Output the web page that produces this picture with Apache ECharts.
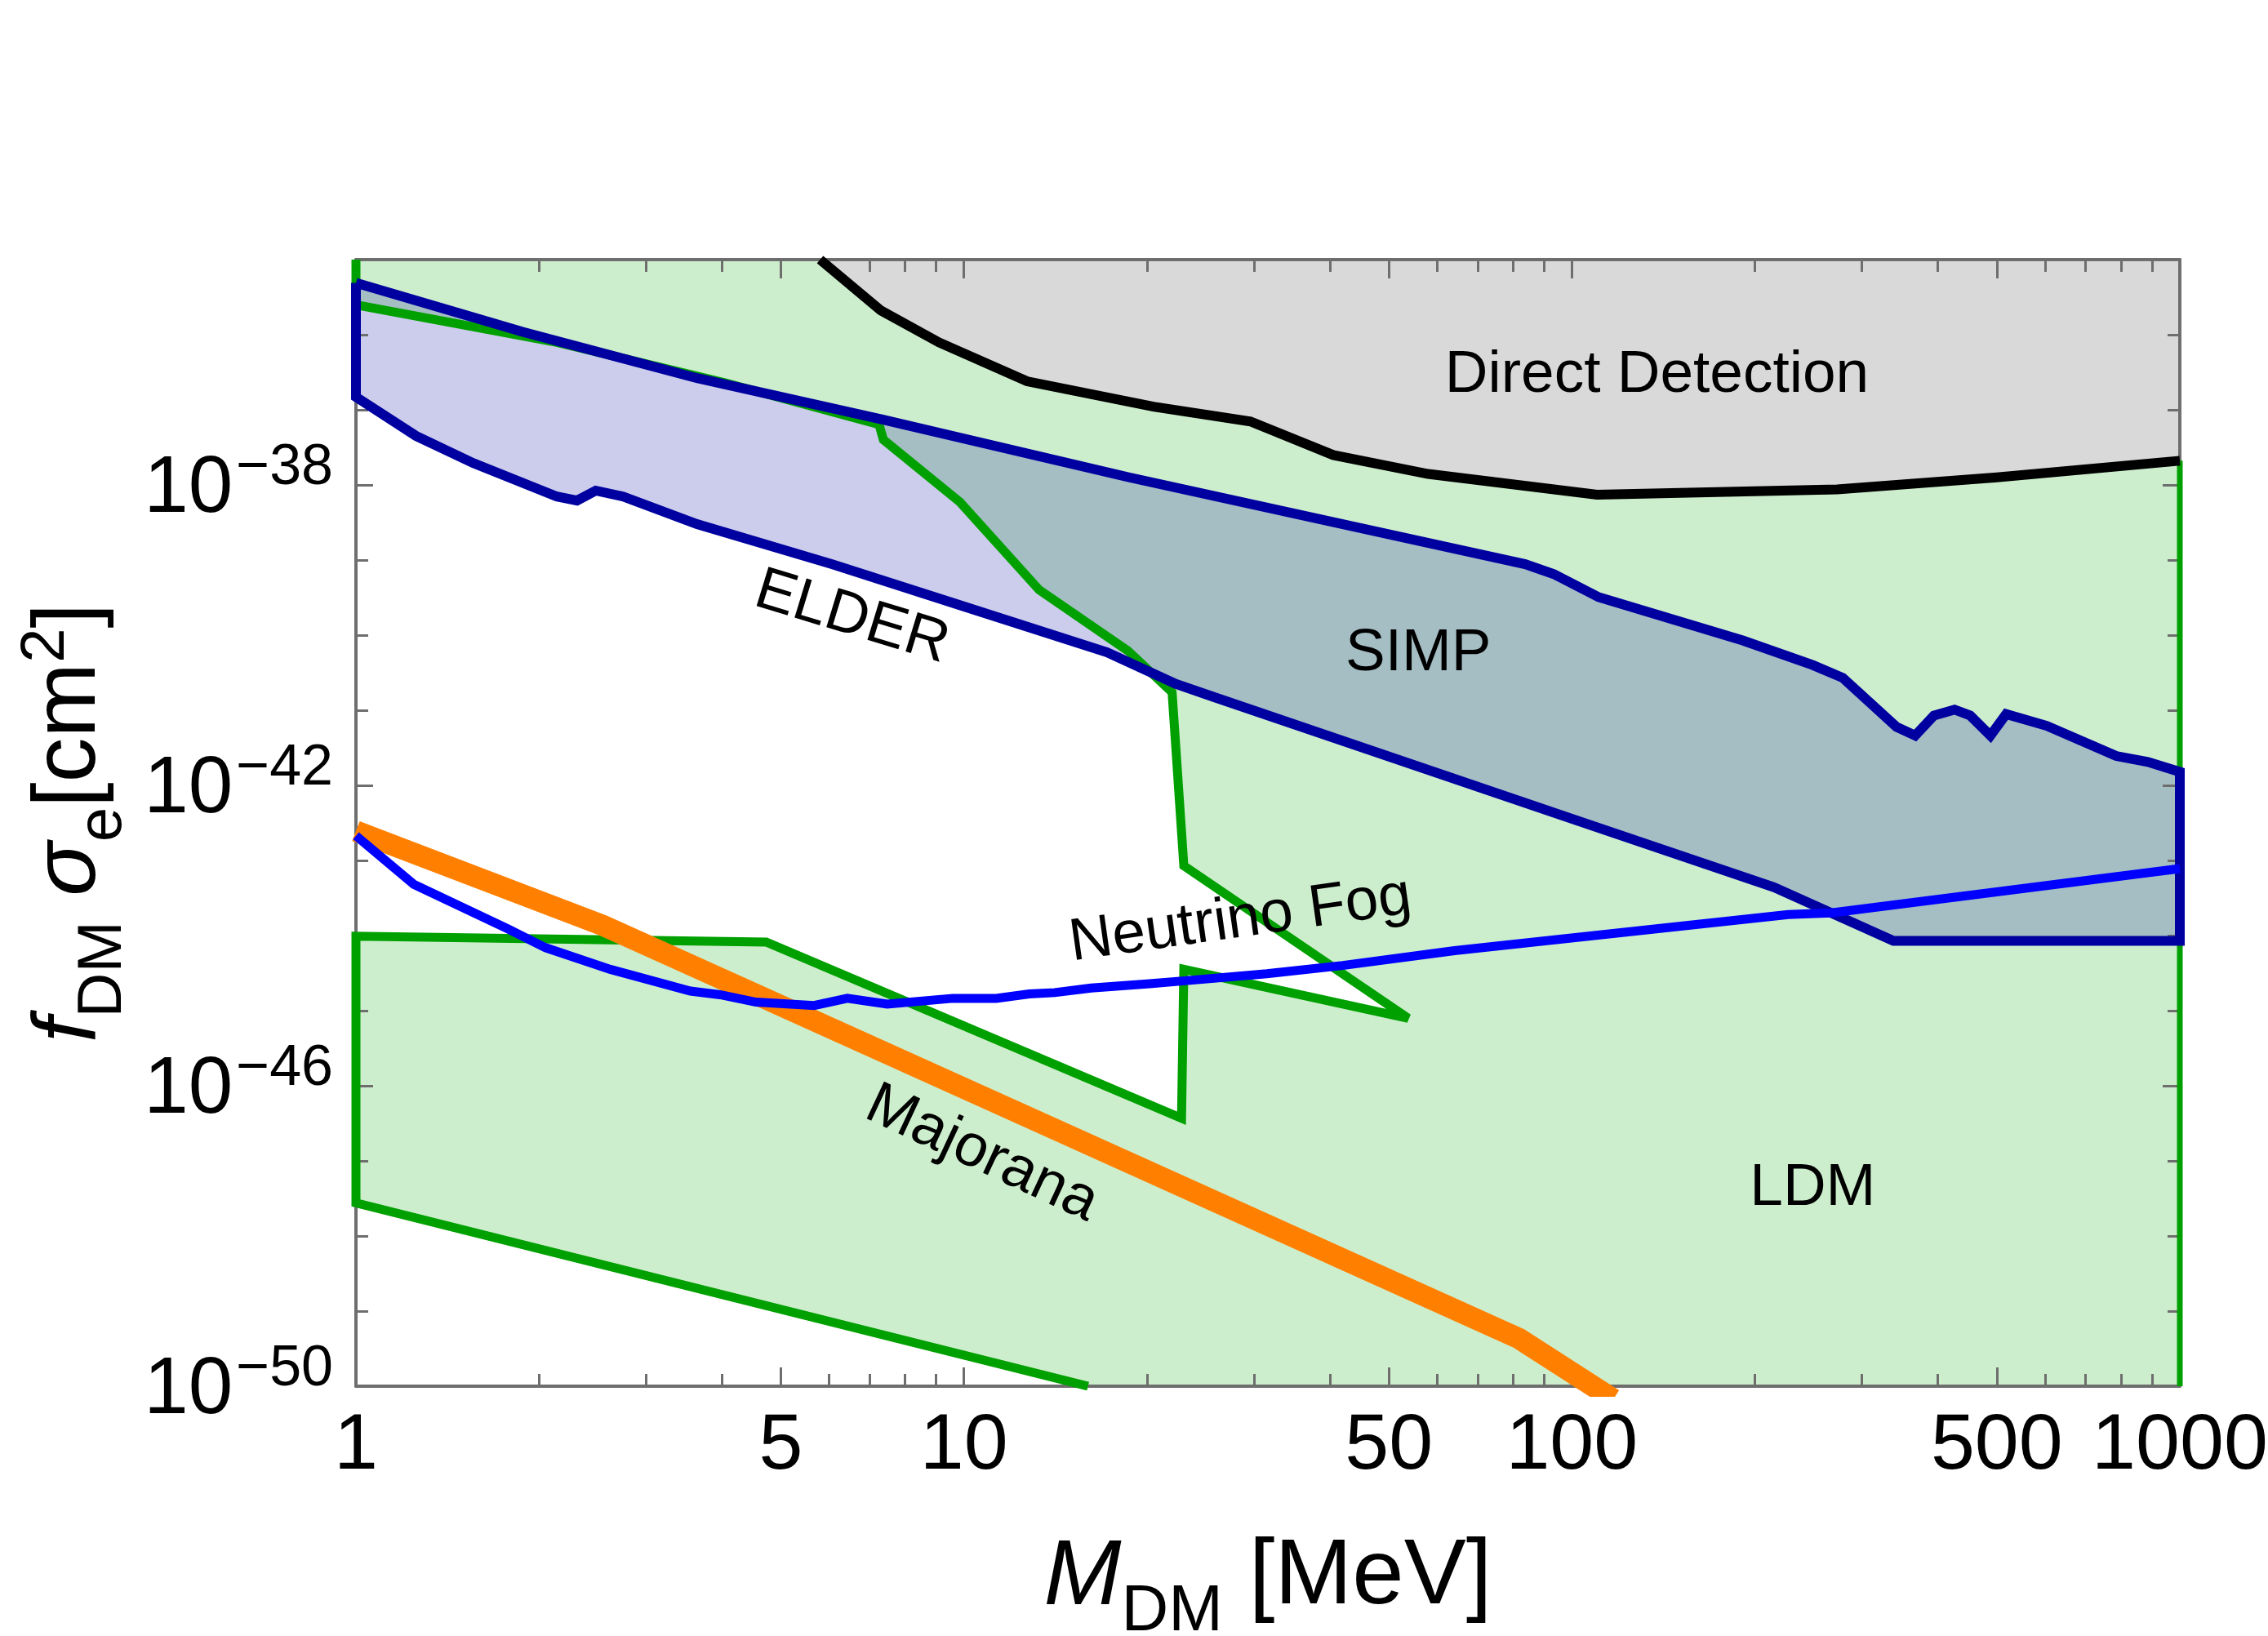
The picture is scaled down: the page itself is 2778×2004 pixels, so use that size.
<!DOCTYPE html>
<html>
<head>
<meta charset="utf-8">
<title>Light dark matter - electron cross section</title>
<script src="https://cdn.jsdelivr.net/npm/echarts@6/dist/echarts.min.js"></script>
<style>
  html, body { margin: 0; padding: 0; background: #fff; }
  #chart { width: 2778px; height: 2004px; }
</style>
</head>
<body>
<div id="chart"></div>
<script>
// plot range
var massMin = 1, massMax = 1000;          // MeV
var sigmaMin = 1e-50, sigmaMax = 1e-35;   // cm^2

// tick marks
var xMajorTicks = [1, 5, 10, 50, 100, 500, 1000];
var xMinorTicks = [2, 3, 4, 6, 7, 8, 9, 20, 30, 40, 60, 70, 80, 90, 200, 300, 400, 600, 700, 800, 900];
var yMajorExp = [-50, -46, -42, -38];
var yMinorExp = [-49, -48, -47, -45, -44, -43, -41, -40, -39, -37, -36];

// direct detection bound (grey, filled upwards)
var ddMass  = [5.8, 7.3, 9.1, 12.7, 20.5, 29.6, 40.5, 58, 110, 273, 500, 1000];
var ddSigma = [1e-35, 2.1e-36, 7.9e-37, 2.4e-37, 1.1e-37, 7.0e-38, 2.5e-38, 1.4e-38, 7.4e-39, 8.7e-39, 1.26e-38, 2.1e-38];

// LDM region, green outline (top-left down to the bottom edge)
var ldmMass  = [1, 1, 2.14, 4.04, 7.25, 7.37, 9.85, 13.3, 18.6, 22.0, 23.0, 53.8, 23.0, 22.8, 4.73, 1, 1, 16.0];
var ldmSigma = [1e-35, 2.5e-36, 7.9e-37, 2.3e-37, 6.4e-38, 4.0e-38, 5.9e-39, 4.0e-40, 6.2e-41, 1.73e-41,
                8.5e-44, 7.9e-46, 3.55e-45, 3.7e-47, 8.2e-45, 9.8e-45, 2.75e-48, 1e-50];
var ldmRightMass  = [1000, 1000];
var ldmRightSigma = [2.1e-38, 1e-50];

// ELDER + SIMP band (closed outline: upper edge, right edge, lower edge)
var elderMass  = [1, 1.88, 3.64, 7.37, 18.7, 83.8, 93.4, 110.7, 191, 249, 279, 342, 367, 394, 426, 452, 488, 518, 604, 786, 886, 1000,
                  1000, 338, 215, 102, 25.7, 22.3, 17.2, 9.94, 6.07, 3.64, 2.75, 2.48, 2.31, 2.14, 1.56, 1.255, 1];
var elderSigma = [4.9e-36, 1.09e-36, 2.64e-37, 7.4e-38, 1.26e-38, 8.8e-40, 6.5e-40, 3.2e-40, 8.5e-41, 4.0e-41, 2.7e-41, 6.0e-42,
                  4.6e-42, 8.5e-42, 1.02e-41, 8.5e-42, 4.6e-42, 8.9e-42, 6.2e-42, 2.46e-42, 2.05e-42, 1.51e-42,
                  8.5e-45, 8.5e-45, 4.4e-44, 3.4e-43, 1.51e-41, 2.24e-41, 5.9e-41, 2.45e-40, 8.8e-40, 3.0e-39, 7.0e-39,
                  8.4e-39, 6.2e-39, 7.0e-39, 1.95e-38, 4.5e-38, 1.48e-37];

// neutrino fog
var fogMass  = [1, 1.245, 1.78, 2.05, 2.62, 3.55, 3.97, 4.55, 5.67, 6.43, 7.48, 9.59, 11.3, 12.8, 14.1, 16.2, 20.2, 23.1,
                31.5, 42.0, 64.1, 227, 267, 1000];
var fogSigma = [2.13e-43, 4.8e-44, 1.22e-44, 6.9e-45, 3.55e-45, 1.82e-45, 1.63e-45, 1.30e-45, 1.17e-45, 1.46e-45, 1.22e-45,
                1.46e-45, 1.46e-45, 1.67e-45, 1.74e-45, 2.0e-45, 2.28e-45, 2.5e-45, 3.1e-45, 4.0e-45, 6.3e-45, 1.9e-44,
                2.0e-44, 7.8e-44];

// Majorana band
var majMass  = [1, 2.55, 81.9, 117];
var majSigma = [2.46e-43, 1.36e-44, 4.3e-50, 6.7e-51];

// region labels
var annotNames = ['Direct Detection', 'SIMP', 'ELDER', 'Neutrino Fog', 'Majorana', 'LDM'];
var annotMass  = [138, 55.9, 6.54, 28.5, 10.7, 249];
var annotSigma = [2.9e-37, 5.7e-41, 1.7e-40, 1.6e-44, 1.23e-47, 4.3e-48];
var annotAngle = [0, 0, -17, 8, -25, 0];

var FONT = "'Liberation Sans', Arial, Helvetica, sans-serif";
var GREY = '#6e6e6e';

function pairs(xs, ys) {
  return xs.map(function (x, i) { return [x, ys[i]]; });
}
function log10All(arr) {
  return arr.map(function (v) { return Math.log10(v); });
}

var ddPts = pairs(ddMass, ddSigma);
var ddPolygon = ddPts.concat([[massMax, sigmaMax]]);
var ldmEdge = pairs(ldmMass, ldmSigma);
var ldmPolygon = ldmEdge.concat([[massMax, sigmaMin], [massMax, sigmaMax]]);
var elderPts = pairs(elderMass, elderSigma);
var elderClosed = elderPts.concat([elderPts[0]]);

// linear axes in log10 space, used only for the frame, ticks and labels
function frameAxis(dim, position, tickPos, tickLen, withLine) {
  var isX = dim === 'x';
  return {
    type: 'value',
    position: position,
    min: isX ? Math.log10(massMin) : Math.log10(sigmaMin),
    max: isX ? Math.log10(massMax) : Math.log10(sigmaMax),
    z: 4,
    axisLine: { show: withLine, onZero: false, lineStyle: { color: GREY, width: 4 } },
    axisTick: { show: true, inside: true, length: tickLen, customValues: tickPos,
                lineStyle: { color: GREY, width: 3 } },
    axisLabel: { show: false },
    splitLine: { show: false }
  };
}

function titleRich(big, small) {
  return {
    b:   { fontSize: big, fontFamily: FONT, color: '#000', lineHeight: big + 20, verticalAlign: 'top', padding: [11, 0, 0, 0] },
    it:  { fontSize: big, fontFamily: FONT, fontStyle: 'italic', color: '#000', lineHeight: big + 20, verticalAlign: 'top', padding: [11, 0, 0, 0] },
    sub: { fontSize: small, fontFamily: FONT, color: '#000', lineHeight: small, verticalAlign: 'top', padding: [70, 0, 0, 0] },
    sup: { fontSize: small, fontFamily: FONT, color: '#000', lineHeight: small, verticalAlign: 'top', padding: [0, 0, 0, 0] }
  };
}

var xLabelAxis = frameAxis('x', 'bottom', log10All(xMajorTicks), 23, true);
xLabelAxis.axisLabel = {
  show: true, customValues: log10All(xMajorTicks), margin: 26,
  fontSize: 97, fontFamily: FONT, color: '#000',
  formatter: function (v) { return String(Math.round(Math.pow(10, v))); }
};
xLabelAxis.name = '{it|M}{sub|DM}{b| [MeV]}';
xLabelAxis.nameLocation = 'middle';
xLabelAxis.nameGap = 167;
xLabelAxis.nameTextStyle = { rich: titleRich(114, 80) };

var yLabelAxis = frameAxis('y', 'left', yMajorExp, 21, true);
yLabelAxis.axisLabel = {
  show: true, customValues: yMajorExp, margin: 28,
  formatter: function (v) { return '{b|10}{s|\u2212' + Math.abs(Math.round(v)) + '}'; },
  rich: {
    b: { fontSize: 98, fontFamily: FONT, color: '#000', lineHeight: 110, verticalAlign: 'top', padding: [12, 0, 0, 0] },
    s: { fontSize: 70, fontFamily: FONT, color: '#000', lineHeight: 70, verticalAlign: 'top', padding: [0, 0, 0, 4] }
  }
};
yLabelAxis.name = '{it|f}{sub|DM}{b| }{it|\u03c3}{sub|e}{b|[cm}{sup|2}{b|]}';
yLabelAxis.nameLocation = 'middle';
yLabelAxis.nameGap = 286;
yLabelAxis.nameRotate = 90;
yLabelAxis.nameTextStyle = { rich: titleRich(110, 76) };

var xAxes = [
  { type: 'log', logBase: 10, min: massMin, max: massMax, show: false },
  xLabelAxis,
  frameAxis('x', 'bottom', log10All(xMinorTicks), 15, false),
  frameAxis('x', 'top', log10All(xMajorTicks), 23, true),
  frameAxis('x', 'top', log10All(xMinorTicks), 15, false)
];
var yAxes = [
  { type: 'log', logBase: 10, min: sigmaMin, max: sigmaMax, show: false },
  yLabelAxis,
  frameAxis('y', 'left', yMinorExp, 15, false),
  frameAxis('y', 'right', yMajorExp, 21, true),
  frameAxis('y', 'right', yMinorExp, 15, false)
];

function polygonSeries(points, fill, z) {
  return {
    type: 'custom', xAxisIndex: 0, yAxisIndex: 0, z: z, silent: true, clip: true,
    data: [points[0]],
    renderItem: function (params, api) {
      return {
        type: 'polygon',
        shape: { points: points.map(function (p) { return api.coord(p); }) },
        style: { fill: fill }
      };
    }
  };
}

function lineSeries(points, color, width, z, clip) {
  return {
    type: 'line', xAxisIndex: 0, yAxisIndex: 0, data: points, z: z, clip: clip,
    symbol: 'none', showSymbol: false, silent: true,
    lineStyle: { color: color, width: width, join: 'miter', miterLimit: 4, cap: 'butt' }
  };
}

// region names drawn as text elements anchored at data coordinates
function labelSeries() {
  return {
    type: 'custom', xAxisIndex: 0, yAxisIndex: 0, z: 9, silent: true, clip: false,
    data: annotNames.map(function (n, i) { return [annotMass[i], annotSigma[i]]; }),
    renderItem: function (params, api) {
      var i = params.dataIndex;
      var p = api.coord([api.value(0), api.value(1)]);
      return {
        type: 'text',
        x: p[0], y: p[1],
        rotation: annotAngle[i] * Math.PI / 180,
        style: {
          text: annotNames[i], fill: '#000000', opacity: 1,
          font: "73px 'Liberation Sans', Arial, sans-serif",
          align: 'center', verticalAlign: 'middle'
        }
      };
    }
  };
}

var chart = echarts.init(document.getElementById('chart'), null, { renderer: 'canvas' });
chart.setOption({
  animation: false,
  backgroundColor: '#ffffff',
  textStyle: { fontFamily: FONT },
  grid: { left: 436, right: 108, top: 318, bottom: 306, containLabel: false, outerBoundsMode: 'none' },
  xAxis: xAxes,
  yAxis: yAxes,
  series: [
    polygonSeries(ldmPolygon, '#cdeecd', 1),
    polygonSeries(ddPolygon, '#d9d9d9', 2),
    polygonSeries(elderPts, 'rgba(0,0,160,0.2)', 3),
    lineSeries(ldmEdge, '#00a000', 11, 5, false),
    lineSeries(pairs(ldmRightMass, ldmRightSigma), '#00a000', 7, 5, false),
    lineSeries(elderClosed, '#0000a0', 12, 6, false),
    lineSeries(ddPts, '#000000', 12, 6, false),
    lineSeries(pairs(majMass, majSigma), '#ff8000', 26, 7, true),
    lineSeries(pairs(fogMass, fogSigma), '#0000ff', 11, 8, false),
    labelSeries()
  ]
});
</script>
</body>
</html>
